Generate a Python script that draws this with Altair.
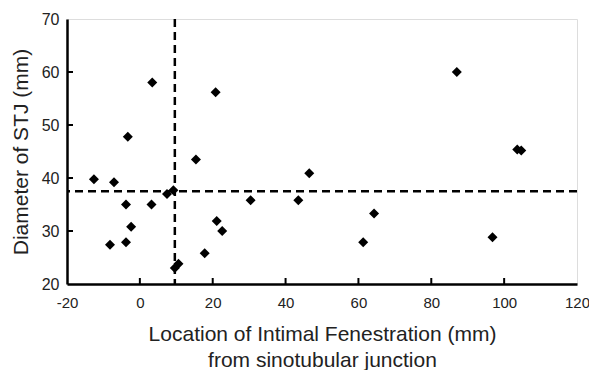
import altair as alt
import pandas as pd

loc = [-12.6, -7.1, -3.3, 3.4, -3.8, 3.2, -2.4, -3.8, -8.2, 7.45, 9.2, 9.6, 10.6,
       15.4, 20.8, 21.1, 22.6, 17.8, 30.4, 43.5, 46.5, 64.3, 61.3, 87.0, 103.6, 104.7, 96.8]
diam = [39.75, 39.2, 47.8, 58.0, 35.0, 35.0, 30.8, 27.9, 27.4, 37.0, 37.7, 23.0, 23.8,
        43.5, 56.2, 31.9, 30.0, 25.8, 35.8, 35.8, 40.9, 33.3, 27.9, 60.0, 45.4, 45.2, 28.8]
x_ticks = [-20, 0, 20, 40, 60, 80, 100, 120]
y_ticks = [20, 30, 40, 50, 60, 70]
h_ref = [37.5]
v_ref = [9.6]

df = pd.DataFrame({"loc": loc, "diam": diam})
font = "Liberation Sans"

xs = alt.Scale(domain=[-20, 120], nice=False, zero=False)
ys = alt.Scale(domain=[20, 70], nice=False, zero=False)

pts = alt.Chart(df).mark_point(shape="diamond", filled=True, color="black", size=100, opacity=1).encode(
    x=alt.X("loc:Q", scale=xs,
            axis=alt.Axis(values=x_ticks, title=["Location of Intimal Fenestration (mm)", "from sinotubular junction"],
                          ticks=False, grid=False, domainColor="black", domainWidth=2.5,
                          labelExpr="'' + datum.value",
                          labelFont=font, labelFontSize=15, labelColor="#222", labelPadding=11,
                          labelFlush=False, labelOverlap=False,
                          titleFont=font, titleFontSize=21, titleFontWeight="normal", titleColor="#222",
                          titlePadding=13, titleLineHeight=26)),
    y=alt.Y("diam:Q", scale=ys,
            axis=alt.Axis(values=y_ticks, title="Diameter of STJ (mm)", ticks=False, grid=False,
                          domainColor="black", domainWidth=2.5,
                          labelFont=font, labelFontSize=16, labelColor="#222", labelPadding=8,
                          labelFlush=False, labelOverlap=False,
                          titleFont=font, titleFontSize=21, titleFontWeight="normal", titleColor="#222",
                          titlePadding=10)),
)

# inward tick marks
xt = alt.Chart(pd.DataFrame({"t": x_ticks[1:-1]})).mark_rule(color="black", strokeWidth=2).encode(
    x=alt.X("t:Q", scale=xs), y=alt.value(265), y2=alt.value(259))
yt = alt.Chart(pd.DataFrame({"t": y_ticks[1:-1]})).mark_rule(color="black", strokeWidth=2).encode(
    y=alt.Y("t:Q", scale=ys), x=alt.value(0), x2=alt.value(6))

hl = alt.Chart(pd.DataFrame({"v": h_ref})).mark_rule(color="black", strokeWidth=2.5, strokeDash=[8, 5]).encode(
    y=alt.Y("v:Q", scale=ys))
vl = alt.Chart(pd.DataFrame({"v": v_ref})).mark_rule(color="black", strokeWidth=2.5, strokeDash=[8, 5]).encode(
    x=alt.X("v:Q", scale=xs))

chart = alt.layer(hl, vl, xt, yt, pts).properties(
    width=510, height=265,
    padding={"left": 59, "top": 11, "right": 12, "bottom": 90},
    autosize="none",
).configure_view(stroke="black", strokeWidth=2.5).configure(background="white")

chart.save("out.html", embed_options={"renderer": "svg", "actions": False})
